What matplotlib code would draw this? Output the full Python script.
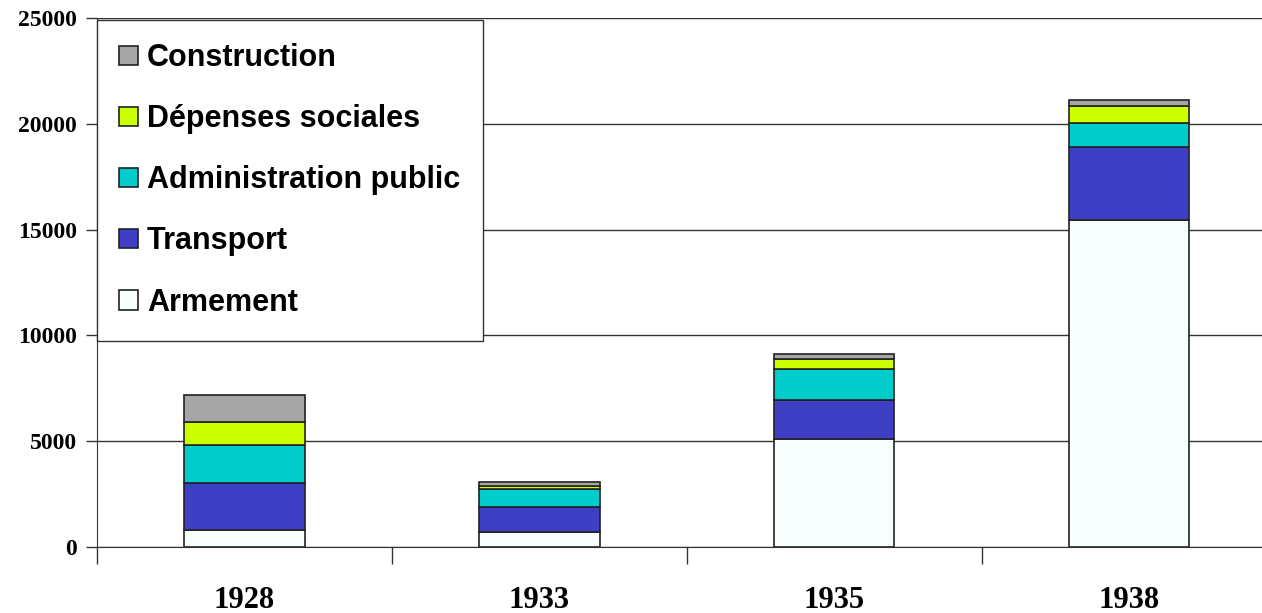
import numpy as np
import matplotlib.pyplot as plt

years = ['1928', '1933', '1935', '1938']
armement = [800, 700, 5100, 15450]
transport = [2200, 1200, 1850, 3450]
administration = [1800, 850, 1450, 1150]
depenses = [1100, 150, 500, 800]
construction = [1300, 150, 200, 250]

series = [
    ('Armement', armement, '#F8FFFF'),
    ('Transport', transport, '#3F3FC6'),
    ('Administration public', administration, '#00CCCC'),
    ('Dépenses sociales', depenses, '#CCFF00'),
    ('Construction', construction, '#A6A6A6'),
]

fig = plt.figure(figsize=(12.62, 6.13), dpi=100)
ax = fig.add_axes([0.0765, 0.1077, 0.935, 0.863])

x = np.arange(len(years))
bottom = np.zeros(len(years))
handles = []
for name, vals, col in series:
    b = ax.bar(x, vals, width=0.41, bottom=bottom, color=col,
               edgecolor='#222222', linewidth=1.2, label=name, zorder=3)
    handles.append(b)
    bottom += np.array(vals)

ax.set_xlim(-0.5, 3.5)
ax.set_ylim(0, 25000)
ax.set_yticks(range(0, 25001, 5000))
ax.yaxis.grid(True, color='#333333', linewidth=1.0, zorder=0)
ax.set_xticks(np.arange(-0.5, 3.6, 1), minor=False)
ax.set_xticklabels([])
ax.set_xticks(x, minor=True)
ax.set_xticklabels(years, minor=True)
ax.tick_params(axis='x', which='major', direction='out', length=12, width=1, color='#333333')
ax.tick_params(axis='x', which='minor', length=0, pad=28)
ax.tick_params(axis='y', direction='out', length=8, width=1, color='#333333', pad=6)

for lab in ax.get_xticklabels(minor=True):
    lab.set_fontfamily('Liberation Serif')
    lab.set_fontweight('bold')
    lab.set_fontsize(22)
for lab in ax.get_yticklabels():
    lab.set_fontfamily('Liberation Serif')
    lab.set_fontweight('bold')
    lab.set_fontsize(17)

for s in ['top', 'right']:
    ax.spines[s].set_visible(False)
ax.spines['left'].set_color('#333333')
ax.spines['bottom'].set_color('#333333')

leg = ax.legend(handles[::-1], [s[0] for s in series][::-1],
                loc='upper left', bbox_to_anchor=(0.0, 0.996),
                prop={'family': 'Liberation Sans', 'weight': 'bold', 'size': 22},
                frameon=True, fancybox=False, edgecolor='#333333', framealpha=1,
                handlelength=0.6, handleheight=0.6, handletextpad=0.3,
                labelspacing=1.02, borderpad=0.75, borderaxespad=0.0)
leg.get_frame().set_linewidth(1.0)
leg.set_zorder(5)

plt.savefig('out.png', dpi=100)
